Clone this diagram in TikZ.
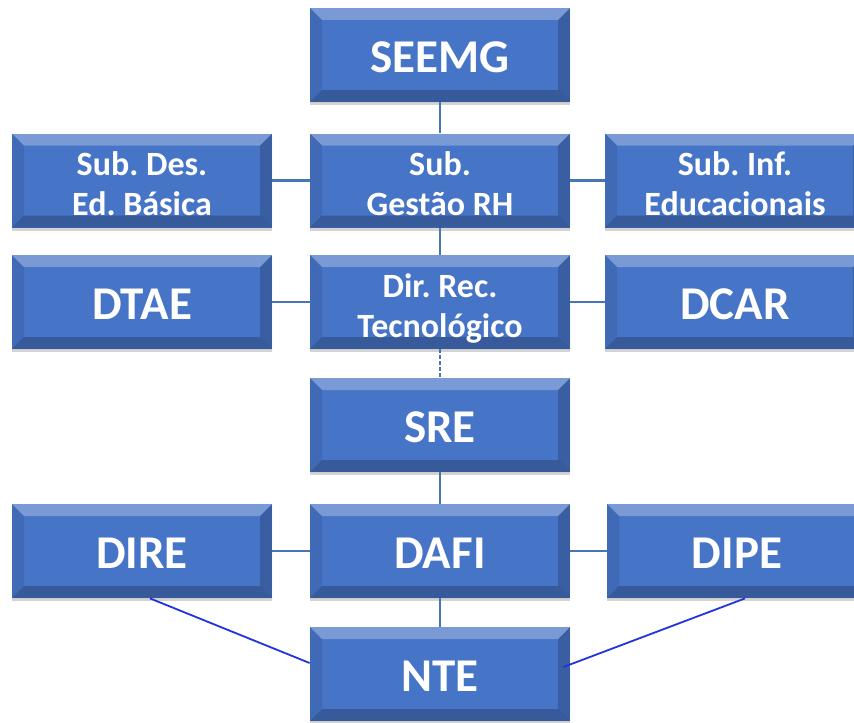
\documentclass[tikz,border=0pt]{standalone}
\usepackage{fontspec}
\setmainfont{Carlito}
\frenchspacing
\usetikzlibrary{calc,shadows}
\definecolor{boxblue}{RGB}{70,116,198}
\definecolor{linkblue}{RGB}{70,118,185}
\definecolor{diagblue}{RGB}{35,50,225}
\newcommand\boxtxt[1]{\raisebox{0pt}[\dimexpr\height+7pt\relax][\depth]{\begin{tabular}{@{}c@{}}#1\end{tabular}}}
\tikzset{
  bevel/.style={path picture={
    \path (path picture bounding box.north west) coordinate (pnw)
          (path picture bounding box.north east) coordinate (pne)
          (path picture bounding box.south west) coordinate (psw)
          (path picture bounding box.south east) coordinate (pse);
    \fill[white,opacity=.28] (pnw) -- (pne) -- ($(pne)+(-6pt,-6pt)$) -- ($(pnw)+(6pt,-6pt)$) -- cycle;
    \fill[black,opacity=.08] (pnw) -- ($(pnw)+(6pt,-6pt)$) -- ($(psw)+(6pt,6pt)$) -- (psw) -- cycle;
    \fill[black,opacity=.18] (pne) -- (pse) -- ($(pse)+(-6pt,6pt)$) -- ($(pne)+(-6pt,-6pt)$) -- cycle;
    \fill[black,opacity=.22] (psw) -- (pse) -- ($(pse)+(-6pt,6pt)$) -- ($(psw)+(6pt,6pt)$) -- cycle;
  }},
  orgbox/.style={rectangle, minimum width=130pt, minimum height=47pt, inner sep=0pt,
    fill=boxblue, text=white, align=center,
    font=\bfseries\fontsize{23.5}{27}\selectfont,
    drop shadow={opacity=.35, shadow xshift=0pt, shadow yshift=-1.5pt}, bevel},
  smalltxt/.style={font=\bfseries\fontsize{17}{20}\selectfont},
  link/.style={draw=linkblue, line width=1.2pt},
  diag/.style={draw=diagblue, line width=0.9pt}
}
\begin{document}
\begin{tikzpicture}[x=0.5pt,y=-0.5pt]
\useasboundingbox (0,0) rectangle (854,722);
\begin{scope}
\clip (0,0) rectangle (854,722);
\node[orgbox] (seemg) at (440,55) {\boxtxt{SEEMG}};
\node[orgbox,smalltxt] (subg) at (440,180.5) {\boxtxt{Sub.\\Gestão RH}};
\node[orgbox,smalltxt] (subdes) at (142,180.5) {\boxtxt{Sub. Des.\\Ed. Básica}};
\node[orgbox,smalltxt] (subinf) at (735,180.5) {\boxtxt{Sub. Inf.\\Educacionais}};
\node[orgbox,smalltxt] (dirrec) at (440,302) {\boxtxt{Dir. Rec.\\Tecnológico}};
\node[orgbox] (dtae) at (142,302) {\boxtxt{DTAE}};
\node[orgbox] (dcar) at (735,302) {\boxtxt{DCAR}};
\node[orgbox] (sre) at (440,425) {\boxtxt{SRE}};
\node[orgbox] (dafi) at (440,551) {\boxtxt{DAFI}};
\node[orgbox] (dire) at (142,551) {\boxtxt{DIRE}};
\node[orgbox] (dipe) at (737,551) {\boxtxt{DIPE}};
\node[orgbox] (nte) at (440,674) {\boxtxt{NTE}};

\draw[link] (seemg.south) -- (subg.north);
\draw[link] (subg.south) -- (dirrec.north);
\draw[link, dash pattern=on 2pt off 1pt] (dirrec.south) -- (sre.north);
\draw[link] (sre.south) -- (dafi.north);
\draw[link] (dafi.south) -- (nte.north);
\draw[link] (subdes.east) -- (subg.west);
\draw[link] (subg.east) -- (subinf.west);
\draw[link] (dtae.east) -- (dirrec.west);
\draw[link] (dirrec.east) -- (dcar.west);
\draw[link] (dire.east) -- (dafi.west);
\draw[link] (dafi.east) -- (dipe.west);
\draw[diag] ([xshift=4pt]dire.south) -- ([yshift=5.5pt]nte.west);
\draw[diag] ([xshift=4pt]dipe.south) -- ([xshift=-3.5pt,yshift=3.5pt]nte.east);
\end{scope}
\end{tikzpicture}
\end{document}
